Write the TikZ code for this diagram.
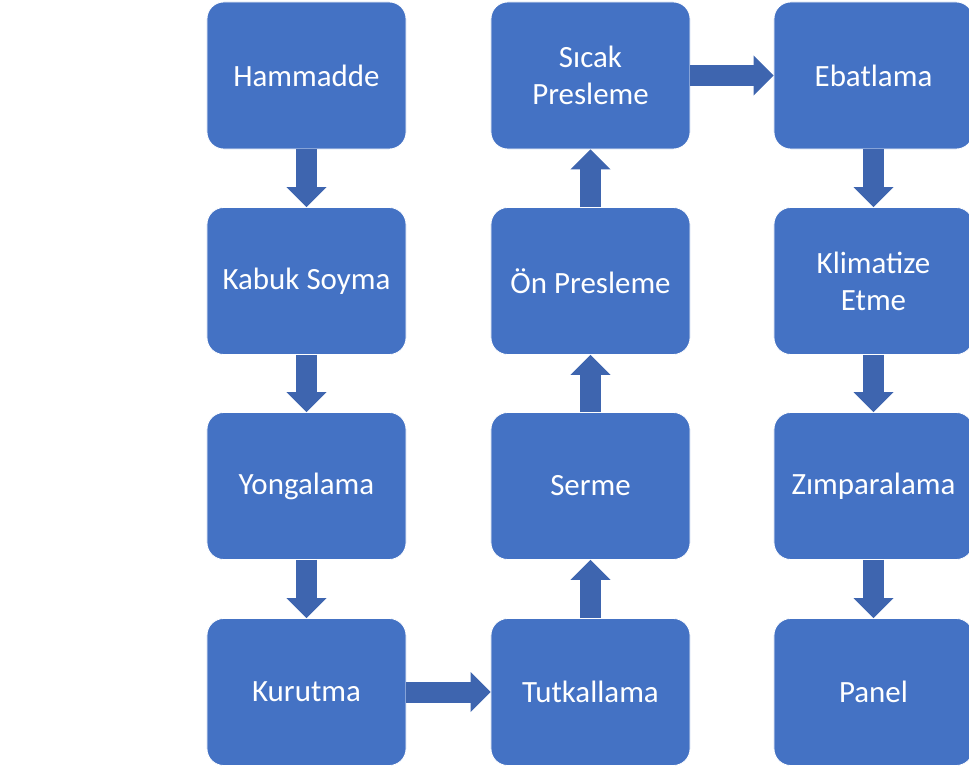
\documentclass[tikz,border=0pt]{standalone}
\usepackage{fontspec}
\setmainfont{Carlito}
\usetikzlibrary{arrows.meta}
\definecolor{boxblue}{RGB}{68,114,196}
\definecolor{arrowblue}{RGB}{62,101,175}
\tikzset{
  stage/.style={rectangle,rounded corners=0.42cm,fill=boxblue,draw=white,line width=0.6pt,
    minimum width=4.975cm,minimum height=3.675cm,text=white,align=center,
    font=\fontsize{22}{26.5}\selectfont},
  flow/.style={draw=arrowblue,line width=0.525cm,
    -{Triangle[width=1cm,length=0.5cm,line width=0pt,fill=arrowblue]}}
}
\begin{document}
\begin{tikzpicture}[x=0.025cm,y=-0.025cm]
\useasboundingbox (0,0) rectangle (969,771);
\node[stage] (1) at (306.5,75.5){Hammadde};
\node[stage] (2) at (306.5,281){Kabuk Soyma};
\node[stage] (3) at (306.5,486){Yongalama};
\node[stage] (4) at (306.5,692){Kurutma};
\node[stage] (5) at (590.5,692){Tutkallama};
\node[stage] (6) at (590.5,486){Serme};
\node[stage] (7) at (590.5,281){Ön Presleme};
\node[stage] (8) at (590.5,75.5){Sıcak\\Presleme};
\node[stage] (9) at (873.5,75.5){Ebatlama};
\node[stage] (10) at (873.5,281){Klimatize\\Etme};
\node[stage] (11) at (873.5,486){Zımparalama};
\node[stage] (12) at (873.5,692){Panel};
\foreach \from/\to in {1/2,2/3,3/4,4/5,5/6,6/7,7/8,8/9,9/10,10/11,11/12}
  \draw[flow] (\from) -- (\to);
\end{tikzpicture}
\end{document}
